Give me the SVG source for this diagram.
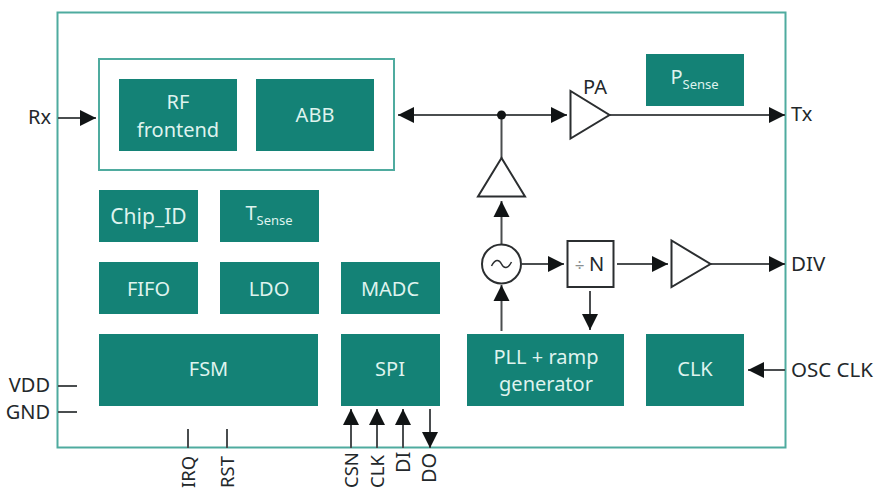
<svg xmlns="http://www.w3.org/2000/svg" width="874" height="489" viewBox="0 0 874 489">
<style>
.b{fill:#148276}
.o{fill:none;stroke:#4fab9f;stroke-width:2}
text{font-family:"Noto Sans","Liberation Sans",sans-serif;font-size:20px}
.w{fill:#dff3ee;text-anchor:middle}
.k{fill:#23282b}
.l{fill:none;stroke:#4a4d4f;stroke-width:2}
.t{fill:#fff;stroke:#2b2e30;stroke-width:2;stroke-linejoin:miter}
.s{font-size:13px}
.n{font-size:18.500px}
</style>
<defs>
<marker id="a" markerUnits="userSpaceOnUse" markerWidth="16" markerHeight="18" refX="16" refY="9" orient="auto-start-reverse" viewBox="0 0 16 18"><path d="M0 1L16 9L0 17Z" fill="#111415"/></marker>
</defs>
<rect id="chip" class="o" x="57.5" y="12.5" width="728" height="435"/>
<g id="connectors">
<path class="l" marker-end="url(#a)" d="M58 118H96"/>
<path class="l" marker-start="url(#a)" marker-end="url(#a)" d="M398 115H567"/>
<path class="l" marker-end="url(#a)" d="M610 115H785"/>
<path class="l" d="M501.500 115V158"/>
<path class="l" marker-end="url(#a)" d="M501.500 244V201"/>
<path class="l" marker-end="url(#a)" d="M501.500 331V285"/>
<path class="l" marker-end="url(#a)" d="M522 264H564"/>
<path class="l" marker-end="url(#a)" d="M617 264H668"/>
<path class="l" marker-end="url(#a)" d="M711 264H785"/>
<path class="l" marker-end="url(#a)" d="M590 291V330"/>
<path class="l" marker-end="url(#a)" d="M785 370H748"/>
<path class="l" d="M58 386H77M58 412H77M188 448V429M227 448V429"/>
<path class="l" marker-end="url(#a)" d="M351 448V409"/>
<path class="l" marker-end="url(#a)" d="M377 448V409"/>
<path class="l" marker-end="url(#a)" d="M403 448V409"/>
<path class="l" marker-end="url(#a)" d="M430 409V448"/>
<circle cx="501.500" cy="115" r="4.500" fill="#111415"/>
</g>
<g id="rx-group"><rect class="o" x="99" y="59" width="295" height="111"/></g>
<g id="rf"><rect class="b" x="119" y="79" width="118" height="72"/><text class="w" x="178" y="109">RF</text><text class="w" x="178" y="137">frontend</text></g>
<g id="abb"><rect class="b" x="256" y="79" width="118" height="72"/><text class="w" x="315" y="122">ABB</text></g>
<g id="psense"><rect class="b" x="646" y="54" width="98" height="52"/><text class="w" x="694.500" y="84">P<tspan class="s" dy="5">Sense</tspan></text></g>
<g id="chipid"><rect class="b" x="99" y="190" width="99" height="52"/><text class="w" x="148.500" y="224" style="font-size:21px">Chip_ID</text></g>
<g id="tsense"><rect class="b" x="220" y="190" width="99" height="52"/><text class="w" x="269" y="220">T<tspan class="s" dy="5">Sense</tspan></text></g>
<g id="fifo"><rect class="b" x="99" y="262" width="99" height="52"/><text class="w" x="148.500" y="296">FIFO</text></g>
<g id="ldo"><rect class="b" x="220" y="262" width="99" height="52"/><text class="w" x="269" y="296">LDO</text></g>
<g id="madc"><rect class="b" x="341" y="262" width="99" height="52"/><text class="w" x="390" y="296">MADC</text></g>
<g id="fsm"><rect class="b" x="99" y="334" width="219" height="72"/><text class="w" x="208.500" y="376">FSM</text></g>
<g id="spi"><rect class="b" x="341" y="334" width="99" height="72"/><text class="w" x="390" y="376">SPI</text></g>
<g id="pll"><rect class="b" x="467" y="334" width="157" height="72"/><text class="w" x="546" y="364">PLL + ramp</text><text class="w" x="546" y="391">generator</text></g>
<g id="clk"><rect class="b" x="646" y="334" width="98" height="72"/><text class="w" x="695" y="376">CLK</text></g>
<g id="pa"><path class="t" d="M570.500 91V138.500L609.500 115Z"/><text class="k" x="595" y="94" text-anchor="middle">PA</text></g>
<g id="buf1"><path class="t" d="M501.500 158L478 196.500H525Z"/></g>
<g id="vco"><circle class="t" cx="501.500" cy="264" r="19.500"/><path d="M491.500 266C495 259 499 259 501.500 264S508 269 511.500 262" fill="none" stroke="#2b2e30" stroke-width="1.500"/></g>
<g id="div"><rect class="t" x="567.500" y="241" width="46" height="46"/><text x="589.500" y="271" text-anchor="middle" class="k"><tspan fill="#8a8f90" style="font-size:17px">÷ </tspan>N</text></g>
<g id="buf2"><path class="t" d="M671.500 240.500V287L710.500 264Z"/></g>
<text class="k" x="28" y="124">Rx</text>
<text class="k" x="791" y="121">Tx</text>
<text class="k" x="791" y="271" style="font-size:20.500px">DIV</text>
<text class="k" x="791" y="377" style="font-size:20.500px">OSC CLK</text>
<text class="k" x="50" y="392" text-anchor="end">VDD</text>
<text class="k" x="50" y="419" text-anchor="end">GND</text>
<text class="k n" transform="translate(195 488) rotate(-90)">IRQ</text>
<text class="k n" transform="translate(234 488) rotate(-90)">RST</text>
<text class="k n" transform="translate(358 488) rotate(-90)">CSN</text>
<text class="k n" transform="translate(384 488) rotate(-90)">CLK</text>
<text class="k" transform="translate(410 473) rotate(-90)">DI</text>
<text class="k" transform="translate(436 483) rotate(-90)">DO</text>
</svg>
